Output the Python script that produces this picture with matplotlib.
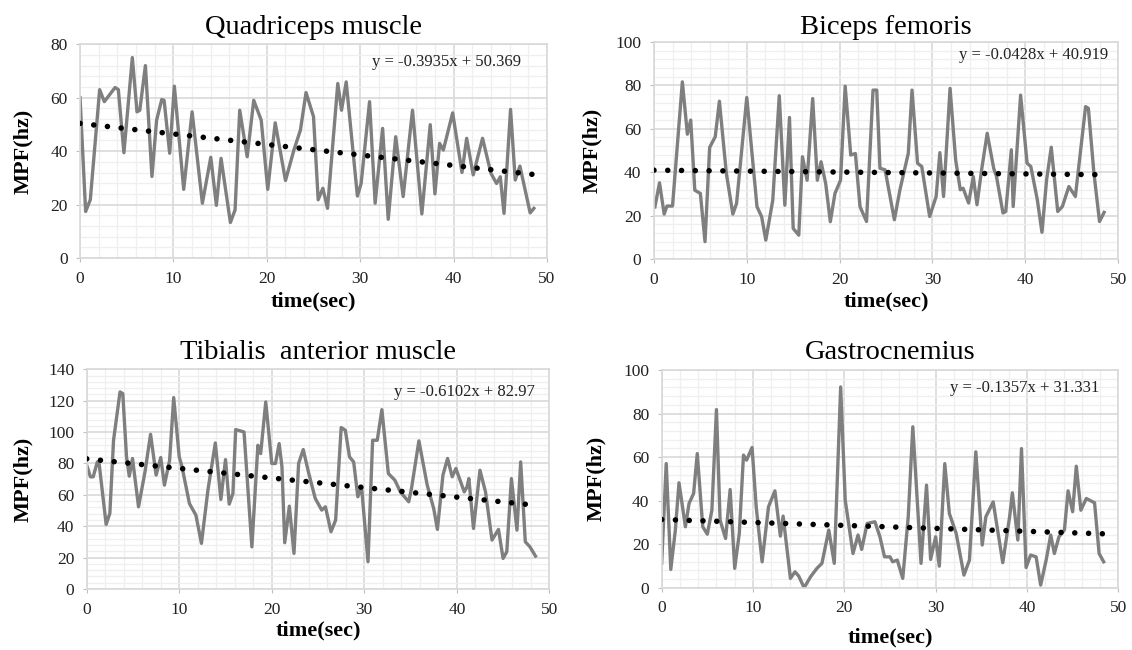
import matplotlib.pyplot as plt
from matplotlib.ticker import MultipleLocator

plt.rcParams['font.family'] = ['Liberation Serif', 'DejaVu Serif']

# Quadriceps muscle
t_quad = [0.0, 0.6, 1.1, 2.1, 2.6, 3.75, 4.1, 4.7, 5.6, 6.1, 6.4, 7.0, 7.7, 8.2, 8.75, 9.0,
          9.6, 10.1, 11.1, 12.0, 13.1, 14.0, 14.6, 15.1, 16.1, 16.6, 17.1, 17.9, 18.6, 19.4,
          20.1, 20.9, 22.0, 22.9, 23.6, 24.2, 25.0, 25.5, 26.0, 26.5, 27.6, 28.0, 28.5, 29.7,
          30.1, 31.0, 31.6, 32.4, 33.0, 33.8, 34.6, 35.6, 36.6, 37.5, 38.0, 38.5, 38.9, 39.9,
          40.9, 41.4, 42.1, 43.1, 44.0, 44.6, 45.0, 45.4, 46.1, 46.6, 47.1, 48.2, 48.6]
mpf_quad = [60, 17.4, 21.8, 63, 58.5, 63.8, 63, 39.4, 75, 54.7, 55.3, 72, 30.5, 51.6, 59.3, 59,
            39.2, 64.3, 25.7, 54.7, 20.5, 37.7, 19.7, 37.3, 13.3, 18, 55.3, 37.9, 59, 51.6,
            25.7, 50.6, 29, 40.4, 47.9, 61.9, 52.9, 21.8, 26.1, 18.6, 65.3, 55.3, 65.9, 23.2,
            27.9, 58.5, 20.5, 48.5, 14.5, 45.4, 23, 55.3, 16.5, 49.9, 24, 42.9, 40.4, 54.3,
            32, 44.8, 31.1, 44.8, 31.7, 27.9, 30.4, 16.7, 55.6, 29.2, 34.4, 16.9, 18.6]

# Biceps femoris
t_bic = [0.1, 0.6, 1.1, 1.4, 2.0, 3.06, 3.6, 3.96, 4.4, 5.0, 5.5, 6.0, 6.6, 7.05, 7.8, 8.5,
         8.9, 10.0, 11.1, 11.6, 12.05, 12.8, 13.5, 14.1, 14.6, 15.0, 15.6, 16.0, 16.5, 17.1,
         17.6, 18.0, 18.5, 19.0, 19.5, 20.1, 20.6, 21.2, 21.7, 22.2, 22.9, 23.6, 24.0, 24.35,
         24.9, 25.9, 26.5, 27.4, 27.8, 28.4, 28.85, 29.7, 30.4, 30.8, 31.2, 31.9, 32.5, 33.0,
         33.3, 33.9, 34.4, 34.8, 35.3, 35.9, 36.6, 36.9, 37.6, 37.9, 38.5, 38.7, 39.5, 40.2,
         40.6, 41.3, 41.8, 42.3, 42.8, 43.5, 44.0, 44.7, 45.4, 46.5, 46.8, 47.4, 48.0, 48.5]
mpf_bic = [24, 35.1, 20.7, 24.4, 24.4, 81.6, 57.5, 64, 31.7, 30.2, 8, 51.4, 56.3, 72.7, 39.4, 20.7,
           25.6, 74.4, 24.1, 19.5, 8.7, 27.1, 75.2, 24.8, 65.2, 14.1, 11, 47.1, 36.3, 73.9,
           36.3, 44.8, 34.8, 17.2, 30.2, 36.3, 79.6, 47.9, 48.6, 24.1, 17.3, 77.8, 77.8, 41.8,
           41.1, 18.1, 31.9, 48.7, 77.8, 44.1, 42.6, 19.6, 28.8, 49, 28.8, 78.6, 45.7, 31.9,
           32.6, 25.8, 38, 25, 41.1, 57.9, 41.8, 38, 21.2, 21.9, 50.3, 24.2, 75.5, 44.1,
           42.6, 27.3, 12.3, 36.5, 51.5, 21.9, 24.2, 33.4, 28.8, 70.2, 69.4, 39.5, 17.3, 21.5]

# Tibialis anterior muscle
t_tib = [0.0, 0.4, 0.7, 1.15, 1.35, 2.1, 2.5, 2.9, 3.6, 3.9, 4.3, 4.6, 4.95, 5.6, 6.3, 6.9,
         7.5, 8.0, 8.4, 8.96, 9.4, 10.0, 10.3, 11.1, 11.8, 12.4, 13.1, 13.9, 14.5, 15.0,
         15.4, 15.8, 16.1, 17.0, 17.85, 18.5, 18.8, 19.35, 20.0, 20.4, 20.8, 21.1, 21.4, 21.9,
         22.4, 22.9, 23.4, 24.0, 24.7, 25.4, 25.8, 26.4, 26.9, 27.5, 27.95, 28.4, 28.85, 29.3,
         29.7, 30.4, 30.9, 31.4, 31.9, 32.6, 33.3, 33.9, 34.8, 35.1, 35.9, 36.8, 37.5, 37.9,
         38.5, 39.0, 39.5, 39.9, 40.8, 41.1, 41.3, 41.8, 42.5, 43.1, 43.8, 44.5, 45.0, 45.4,
         45.9, 46.5, 46.9, 47.4, 47.9, 48.5]
mpf_tib = [78.9, 71.5, 71.5, 81, 79.5, 41.2, 48.2, 94.8, 125.6, 124.5, 84.2, 71.9, 83.2, 52.4, 74.7, 98.6,
           72.6, 83.8, 66.2, 82.1, 122, 84.2, 77.9, 54.5, 47.1, 29.1, 63, 93.1, 57.1, 82.5,
           54.1, 60.9, 101.6, 100.1, 26.9, 91.6, 86.3, 119.2, 80, 80, 92.7, 77.9, 29.5, 52.8,
           22.7, 80, 88.9, 73.6, 57.7, 50.3, 52.4, 36.5, 43.9, 102.9, 101.2, 84.2, 81, 58.8,
           65.1, 17.4, 94.8, 94.8, 114.3, 73.6, 69.4, 61.9, 55.6, 64.1, 94.4, 66.2, 51.3, 38,
           72.6, 83.2, 71.5, 76.8, 61.9, 65.1, 70.4, 38.6, 75.7, 61.9, 31.2, 38, 19.5, 23.8,
           70.4, 37.5, 81, 30.1, 26.9, 21]

# Gastrocnemius
t_gas = [0.0, 0.5, 1.0, 1.5, 1.9, 2.6, 3.0, 3.5, 3.9, 4.5, 5.0, 5.5, 6.0, 6.4, 7.0, 7.5,
         8.0, 8.5, 8.96, 9.3, 9.9, 10.35, 11.0, 11.7, 12.4, 13.0, 13.3, 14.1, 14.6, 15.0,
         15.6, 16.3, 17.0, 17.55, 18.3, 18.9, 19.6, 20.1, 20.95, 21.5, 21.9, 22.5, 23.35, 23.9,
         24.4, 25.0, 25.3, 25.8, 26.4, 27.0, 27.5, 28.4, 29.0, 29.45, 30.0, 30.4, 31.0, 31.5,
         32.25, 33.1, 33.7, 34.4, 35.1, 35.5, 36.3, 37.35, 38.1, 38.4, 39.0, 39.4, 39.9, 40.4,
         41.0, 41.5, 42.1, 42.6, 43.0, 43.5, 44.1, 44.5, 45.0, 45.4, 45.9, 46.5, 47.4, 47.9, 48.4]
mpf_gas = [11.2, 57, 8.4, 26.5, 48.2, 28, 38.7, 43.3, 61.6, 28, 24.6, 35.6, 81.8, 31, 22.6, 45.1,
           8.9, 24.9, 60.9, 58.6, 64.4, 37.2, 11.9, 37.2, 44.5, 23.7, 32.9, 4.3, 7.3, 5.4,
           0, 5, 8.9, 11.2, 26.5, 11.2, 92.2, 40.2, 15.7, 24.2, 17.6, 29.5, 30.3, 23.4,
           14.2, 14.2, 11.9, 12.7, 4.3, 32.6, 73.9, 11.2, 47.1, 13, 23.4, 9.9, 57, 34.1,
           24.9, 5.8, 12.7, 62.4, 19.6, 32.6, 39.4, 11.5, 32.6, 43.6, 21.9, 63.9, 9.3, 15,
           14.2, 1.2, 12.7, 24.2, 15.7, 23.4, 26.5, 44.5, 34.9, 55.8, 35.6, 41, 39, 15.7, 11.9]

titles = ['Quadriceps muscle', 'Biceps femoris', 'Tibialis  anterior muscle', 'Gastrocnemius']
slopes = [-0.3935, -0.0428, -0.6102, -0.1357]
intercepts = [50.369, 40.919, 82.97, 31.331]
eq_labels = ['y = -0.3935x + 50.369', 'y = -0.0428x + 40.919',
             'y = -0.6102x + 82.97', 'y = -0.1357x + 31.331']
y_max = [80, 100, 140, 100]

panels = [(t_quad, mpf_quad), (t_bic, mpf_bic), (t_tib, mpf_tib), (t_gas, mpf_gas)]

# axes boxes in figure fractions
boxes = [[0.0707, 0.603, 0.4125, 0.329],
         [0.5777, 0.6015, 0.410, 0.334],
         [0.0766, 0.0938, 0.4087, 0.338],
         [0.5845, 0.0958, 0.4034, 0.335]]
eq_pos = [(0.944, 0.917), (0.978, 0.939), (0.969, 0.897), (0.958, 0.916)]
title_y = [0.958, 0.958, 0.458, 0.458]
ylab_x = [0.0203, 0.523, 0.0203, 0.527]
xlab_y = [0.536, 0.536, 0.03, 0.02]

fig = plt.figure(figsize=(11.32, 6.5), dpi=100)

for i, (t, v) in enumerate(panels):
    ax = fig.add_axes(boxes[i])
    ax.set_xlim(0, 50)
    ax.set_ylim(0, y_max[i])
    ax.xaxis.set_major_locator(MultipleLocator(10))
    ax.xaxis.set_minor_locator(MultipleLocator(2))
    ax.yaxis.set_major_locator(MultipleLocator(20))
    ax.yaxis.set_minor_locator(MultipleLocator(4))
    ax.grid(which='minor', color='#efefef', linewidth=0.9, zorder=0)
    ax.grid(which='major', color='#d9d9d9', linewidth=1.2, zorder=0)
    for s in ax.spines.values():
        s.set_color('#d9d9d9')
        s.set_linewidth(1.2)
    ax.tick_params(which='major', length=3, color='#bfbfbf', labelsize=12.5,
                   labelcolor='#222222', pad=6)
    ax.tick_params(which='minor', length=0)
    ax.set_axisbelow(True)

    ax.plot(t, v, color='#7f7f7f', linewidth=2.4, solid_joinstyle='round', zorder=2)

    tx = [0, max(t)]
    ty = [slopes[i] * x + intercepts[i] for x in tx]
    ax.plot(tx, ty, color='black', linewidth=4, linestyle=(0, (0.01, 2.47)),
            dash_capstyle='round', zorder=3)

    ax.text(eq_pos[i][0], eq_pos[i][1], eq_labels[i], transform=ax.transAxes,
            ha='right', va='center', fontsize=12, color='#222222')

    cx = boxes[i][0] + boxes[i][2] / 2
    fig.text(cx, title_y[i], titles[i], ha='center', va='center', fontsize=20.5)
    fig.text(ylab_x[i], boxes[i][1] + boxes[i][3] / 2, 'MPF(hz)', rotation=90,
             ha='center', va='center', fontsize=16, fontweight='bold')
    fig.text(cx, xlab_y[i], 'time(sec)', ha='center', va='center',
             fontsize=16, fontweight='bold')

fig.savefig('out.png', dpi=100)
